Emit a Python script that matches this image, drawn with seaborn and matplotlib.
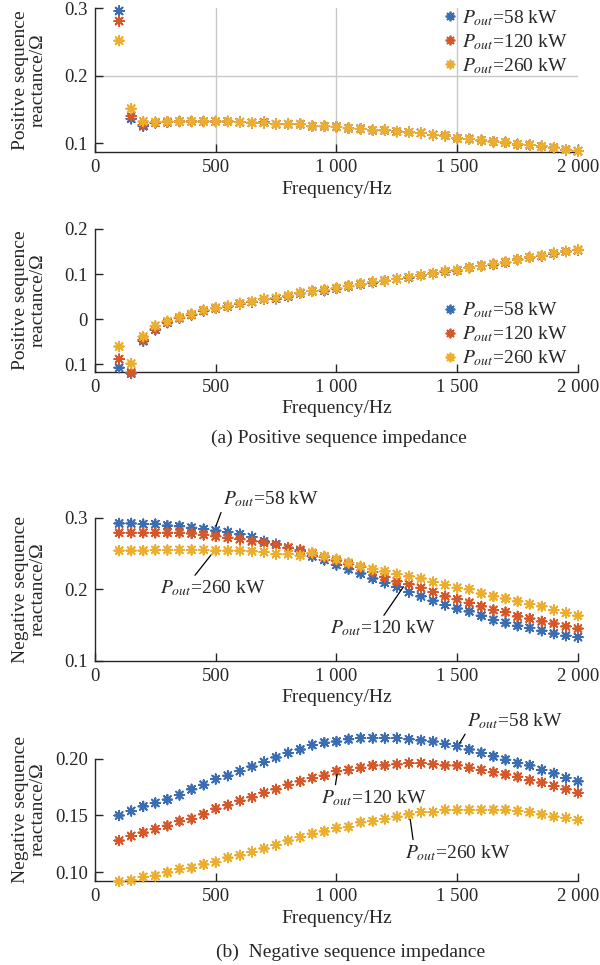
import matplotlib
matplotlib.use("Agg")
import matplotlib.pyplot as plt
import numpy as np
import pandas as pd
import seaborn as sns

sns.set_style("ticks")
plt.rcParams["font.family"] = ["Liberation Serif", "DejaVu Serif"]
plt.rcParams["mathtext.fontset"] = "stix"
plt.rcParams["font.size"] = 14

# frequency points, 100 Hz .. 2000 Hz every 50 Hz
freq = list(range(100, 2001, 50))
labels = ["$P_{out}$=58 kW", "$P_{out}$=120 kW", "$P_{out}$=260 kW"]

# (a) positive sequence reactance, upper panel
pos1_58 = [0.296, 0.136, 0.125, 0.130, 0.131, 0.132, 0.132, 0.132, 0.132, 0.132,
           0.131, 0.130, 0.130, 0.128, 0.128, 0.128, 0.125, 0.125, 0.124, 0.122,
           0.121, 0.119, 0.119, 0.117, 0.116, 0.115, 0.112, 0.111, 0.107, 0.106,
           0.104, 0.102, 0.101, 0.098, 0.097, 0.095, 0.093, 0.090, 0.088]
pos1_120 = [0.281, 0.140, 0.127, 0.130, 0.131, 0.132, 0.132, 0.132, 0.132, 0.132,
            0.131, 0.130, 0.131, 0.128, 0.128, 0.128, 0.125, 0.125, 0.124, 0.122,
            0.121, 0.119, 0.119, 0.117, 0.116, 0.115, 0.112, 0.111, 0.107, 0.106,
            0.104, 0.102, 0.101, 0.098, 0.097, 0.095, 0.093, 0.090, 0.088]
pos1_260 = [0.252, 0.151, 0.132, 0.131, 0.132, 0.132, 0.132, 0.132, 0.132, 0.132,
            0.131, 0.130, 0.130, 0.128, 0.128, 0.128, 0.125, 0.125, 0.124, 0.122,
            0.121, 0.119, 0.119, 0.117, 0.116, 0.115, 0.112, 0.111, 0.107, 0.106,
            0.104, 0.102, 0.101, 0.098, 0.097, 0.095, 0.093, 0.090, 0.088]

# (a) positive sequence reactance, lower panel
pos2_58 = [-0.108, -0.121, -0.049, -0.024, -0.008, 0.002, 0.009, 0.018, 0.024, 0.028,
           0.034, 0.038, 0.044, 0.045, 0.050, 0.057, 0.062, 0.063, 0.068, 0.073,
           0.077, 0.081, 0.085, 0.089, 0.092, 0.097, 0.101, 0.105, 0.108, 0.114,
           0.118, 0.121, 0.126, 0.132, 0.137, 0.140, 0.145, 0.150, 0.153]
pos2_120 = [-0.089, -0.119, -0.046, -0.023, -0.007, 0.003, 0.010, 0.019, 0.024, 0.028,
            0.034, 0.038, 0.044, 0.046, 0.051, 0.058, 0.062, 0.064, 0.068, 0.073,
            0.078, 0.082, 0.085, 0.089, 0.093, 0.097, 0.101, 0.106, 0.108, 0.114,
            0.118, 0.122, 0.126, 0.132, 0.137, 0.140, 0.146, 0.150, 0.153]
pos2_260 = [-0.061, -0.099, -0.039, -0.015, -0.005, 0.004, 0.011, 0.020, 0.025, 0.029,
            0.035, 0.039, 0.045, 0.047, 0.052, 0.058, 0.062, 0.065, 0.069, 0.074,
            0.078, 0.082, 0.085, 0.089, 0.093, 0.097, 0.101, 0.106, 0.109, 0.114,
            0.118, 0.122, 0.127, 0.132, 0.137, 0.141, 0.146, 0.150, 0.154]

# (b) negative sequence reactance, upper panel
neg1_58 = [0.292, 0.292, 0.291, 0.291, 0.289, 0.288, 0.286, 0.284, 0.282, 0.280,
           0.277, 0.273, 0.267, 0.263, 0.258, 0.253, 0.246, 0.241, 0.234, 0.228,
           0.222, 0.215, 0.209, 0.203, 0.196, 0.190, 0.184, 0.178, 0.173, 0.169,
           0.163, 0.157, 0.153, 0.149, 0.146, 0.142, 0.138, 0.135, 0.133]
neg1_120 = [0.279, 0.279, 0.279, 0.279, 0.279, 0.279, 0.278, 0.276, 0.274, 0.272,
            0.270, 0.267, 0.265, 0.262, 0.258, 0.255, 0.250, 0.245, 0.240, 0.235,
            0.231, 0.224, 0.217, 0.211, 0.207, 0.202, 0.196, 0.190, 0.186, 0.181,
            0.176, 0.171, 0.168, 0.162, 0.159, 0.155, 0.152, 0.148, 0.145]
neg1_260 = [0.254, 0.254, 0.254, 0.255, 0.255, 0.255, 0.255, 0.255, 0.254, 0.254,
            0.254, 0.253, 0.252, 0.249, 0.249, 0.247, 0.251, 0.246, 0.242, 0.237,
            0.232, 0.228, 0.225, 0.221, 0.218, 0.215, 0.210, 0.206, 0.202, 0.200,
            0.194, 0.190, 0.187, 0.183, 0.179, 0.176, 0.171, 0.167, 0.163]

# (b) negative sequence reactance, lower panel
neg2_58 = [0.150, 0.154, 0.158, 0.161, 0.164, 0.168, 0.173, 0.177, 0.182, 0.185,
           0.189, 0.193, 0.197, 0.201, 0.205, 0.208, 0.212, 0.214, 0.215, 0.217,
           0.218, 0.218, 0.218, 0.218, 0.217, 0.216, 0.215, 0.213, 0.211, 0.208,
           0.205, 0.202, 0.199, 0.196, 0.194, 0.190, 0.187, 0.183, 0.180]
neg2_120 = [0.128, 0.132, 0.135, 0.138, 0.141, 0.145, 0.147, 0.151, 0.156, 0.159,
            0.163, 0.166, 0.170, 0.173, 0.177, 0.180, 0.183, 0.185, 0.189, 0.190,
            0.192, 0.194, 0.194, 0.195, 0.196, 0.196, 0.195, 0.194, 0.194, 0.192,
            0.190, 0.188, 0.186, 0.184, 0.181, 0.179, 0.176, 0.173, 0.170]
neg2_260 = [0.092, 0.093, 0.096, 0.097, 0.100, 0.103, 0.104, 0.107, 0.109, 0.113,
            0.115, 0.118, 0.121, 0.124, 0.128, 0.131, 0.134, 0.136, 0.139, 0.140,
            0.144, 0.145, 0.147, 0.149, 0.151, 0.153, 0.153, 0.155, 0.155, 0.155,
            0.155, 0.155, 0.155, 0.154, 0.153, 0.151, 0.149, 0.148, 0.146]

xticks = [0, 500, 1000, 1500, 2000]
xticklabels = ["0", "500", "1 000", "1 500", "2 000"]


def long_df(a, b, c):
    rows = []
    for lab, vals in zip(labels, [a, b, c]):
        for f, v in zip(freq, vals):
            rows.append([f, v, lab])
    return pd.DataFrame(rows, columns=["freq", "x", "case"])


pal = {labels[0]: "#3B6DB2", labels[1]: "#D4582A", labels[2]: "#EBAE2E"}
star = (8, 2, 0)
fs = 14

fig = plt.figure(figsize=(6, 9.65), dpi=100)
L, W = 0.1583, 0.805
ax1 = fig.add_axes([L, 0.8425, W, 0.1489])
ax2 = fig.add_axes([L, 0.6148, W, 0.1479])
ax3 = fig.add_axes([L, 0.3153, W, 0.1482])
ax4 = fig.add_axes([L, 0.0870, W, 0.1487])

panels = [
    (ax1, long_df(pos1_58, pos1_120, pos1_260), True, "Positive sequence\nreactance/Ω"),
    (ax2, long_df(pos2_58, pos2_120, pos2_260), True, "Positive sequence\nreactance/Ω"),
    (ax3, long_df(neg1_58, neg1_120, neg1_260), False, "Negative sequence\nreactance/Ω"),
    (ax4, long_df(neg2_58, neg2_120, neg2_260), False, "Negative sequence\nreactance/Ω"),
]

for ax, df, leg, ylab in panels:
    if ax is ax1:
        # light grid only inside panel 1
        for gx in [500, 1000, 1500]:
            ax.axvline(gx, color="#c8c8c8", lw=1, zorder=0)
        ax.axhline(0.2, color="#c8c8c8", lw=1, zorder=0)
    sns.scatterplot(data=df, x="freq", y="x", hue="case", palette=pal,
                    marker=star, s=48, linewidth=1.3, legend=leg, ax=ax,
                    clip_on=False, zorder=3)
    ax.set_xlim(0, 2000)
    ax.set_xticks(xticks)
    ax.set_xticklabels(xticklabels)
    sns.despine(ax=ax)
    ax.tick_params(direction="in", length=6, width=1, pad=5, labelsize=13.5)
    for sp in ["left", "bottom"]:
        ax.spines[sp].set_linewidth(1)
    ax.set_xlabel("Frequency/Hz", fontsize=fs)
    ax.xaxis.set_label_coords(0.5, -0.2)
    ax.set_ylabel(ylab, fontsize=fs, linespacing=1.05)
    ax.yaxis.set_label_coords(-0.1, 0.5)
    if leg:
        sns.move_legend(ax, "upper left", bbox_to_anchor=(0.715, 1.0 if ax is ax1 else 0.5),
                        title=None, frameon=False, handlelength=1.0, handletextpad=0.1,
                        borderaxespad=0, borderpad=0, labelspacing=0.22, fontsize=fs)

ax1.set_ylim(0.0867, 0.3)
ax1.set_yticks([0.1, 0.2, 0.3])
ax1.set_yticklabels(["0.1", "0.2", "0.3"])

ax2.set_ylim(-0.117, 0.2)
ax2.set_yticks([-0.1, 0, 0.1, 0.2])
ax2.set_yticklabels(["0.1", "0", "0.1", "0.2"])

ax3.set_ylim(0.1, 0.3)
ax3.set_yticks([0.1, 0.2, 0.3])
ax3.set_yticklabels(["0.1", "0.2", "0.3"])

ax4.set_ylim(0.0924, 0.2185)
ax4.set_yticks([0.10, 0.15, 0.20])
ax4.set_yticklabels(["0.10", "0.15", "0.20"])
ax4.spines["left"].set_bounds(0.0924, 0.2)

arrow = dict(arrowstyle="-", color="black", lw=0.9, shrinkA=0, shrinkB=3)


def note(ax, text, xy, xytext, rel):
    ax.annotate(text, xy=xy, xytext=xytext, ha="left", va="center", fontsize=fs,
                arrowprops=dict(arrow, relpos=rel), annotation_clip=False)


note(ax3, labels[0], (495, 0.283), (530, 0.3256), (0.0, 0.1))
note(ax3, labels[2], (491, 0.2524), (268, 0.2012), (0.31, 1.0))
note(ax3, labels[1], (1287, 0.2082), (973, 0.1452), (0.49, 1.0))

note(ax4, labels[0], (1502, 0.2108), (1542, 0.233), (0.01, 0.1))
note(ax4, labels[1], (1005, 0.1898), (937, 0.1655), (0.13, 1.0))
note(ax4, labels[2], (1303, 0.1503), (1284, 0.1173), (0.08, 1.0))

fig.text(0.565, 1 - 438 / 965, "(a) Positive sequence impedance",
         ha="center", va="center", fontsize=fs)
fig.text(0.585, 1 - 952 / 965, "(b)  Negative sequence impedance",
         ha="center", va="center", fontsize=fs)

fig.savefig("out.png", dpi=100)
